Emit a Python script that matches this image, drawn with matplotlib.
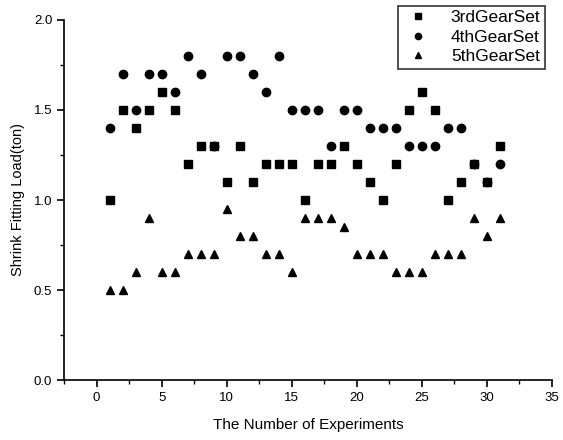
import matplotlib
matplotlib.use("Agg")
import matplotlib.pyplot as plt
from matplotlib.ticker import MultipleLocator

plt.rcParams['font.family'] = ['Liberation Sans', 'DejaVu Sans']

experiments = list(range(1, 32))
gear3 = [1.0, 1.5, 1.4, 1.5, 1.6, 1.5, 1.2, 1.3, 1.3, 1.1, 1.3, 1.1, 1.2, 1.2, 1.2, 1.0,
         1.2, 1.2, 1.3, 1.2, 1.1, 1.0, 1.2, 1.5, 1.6, 1.5, 1.0, 1.1, 1.2, 1.1, 1.3]
gear4 = [1.4, 1.7, 1.5, 1.7, 1.7, 1.6, 1.8, 1.7, 1.3, 1.8, 1.8, 1.7, 1.6, 1.8, 1.5, 1.5,
         1.5, 1.3, 1.5, 1.5, 1.4, 1.4, 1.4, 1.3, 1.3, 1.3, 1.4, 1.4, 1.2, 1.1, 1.2]
gear5 = [0.5, 0.5, 0.6, 0.9, 0.6, 0.6, 0.7, 0.7, 0.7, 0.95, 0.8, 0.8, 0.7, 0.7, 0.6, 0.9,
         0.9, 0.9, 0.85, 0.7, 0.7, 0.7, 0.6, 0.6, 0.6, 0.7, 0.7, 0.7, 0.9, 0.8, 0.9]
labels = ['3rdGearSet', '4thGearSet', '5thGearSet']

fig = plt.figure(figsize=(5.63, 4.4), dpi=100)
ax = fig.add_axes([64/563, 60/440, (552-64)/563, 360/440])

ax.plot(experiments, gear3, linestyle='none', marker='s', markersize=5.5, color='black', label=labels[0])
ax.plot(experiments, gear4, linestyle='none', marker='o', markersize=6, color='black', label=labels[1])
ax.plot(experiments, gear5, linestyle='none', marker='^', markersize=6, color='black', label=labels[2])

ax.set_xlim(-2.5, 35)
ax.set_ylim(0, 2.0)
ax.xaxis.set_major_locator(MultipleLocator(5))
ax.xaxis.set_minor_locator(MultipleLocator(2.5))
ax.yaxis.set_major_locator(MultipleLocator(0.5))
ax.yaxis.set_minor_locator(MultipleLocator(0.25))
ax.yaxis.set_major_formatter(matplotlib.ticker.FormatStrFormatter('%.1f'))
ax.spines['top'].set_visible(False)
ax.spines['right'].set_visible(False)
ax.spines['left'].set_linewidth(1.2)
ax.spines['bottom'].set_linewidth(1.2)
ax.tick_params(which='major', direction='out', length=5, width=1.2, labelsize=9.5)
ax.tick_params(which='minor', direction='out', length=3, width=1.0)

ax.set_xlabel('The Number of Experiments', fontsize=11, labelpad=10)
ax.set_ylabel('Shrink Fitting Load(ton)', fontsize=10.5, labelpad=6)

leg = ax.legend(loc='upper right', bbox_to_anchor=(1.003, 1.063), fontsize=12.5,
                frameon=True, fancybox=False, edgecolor='black', handletextpad=1.0,
                borderpad=0.25, labelspacing=0.25, handlelength=1.8, markerscale=0.75)
leg.get_frame().set_linewidth(1.2)

fig.savefig('out.png', dpi=100)
